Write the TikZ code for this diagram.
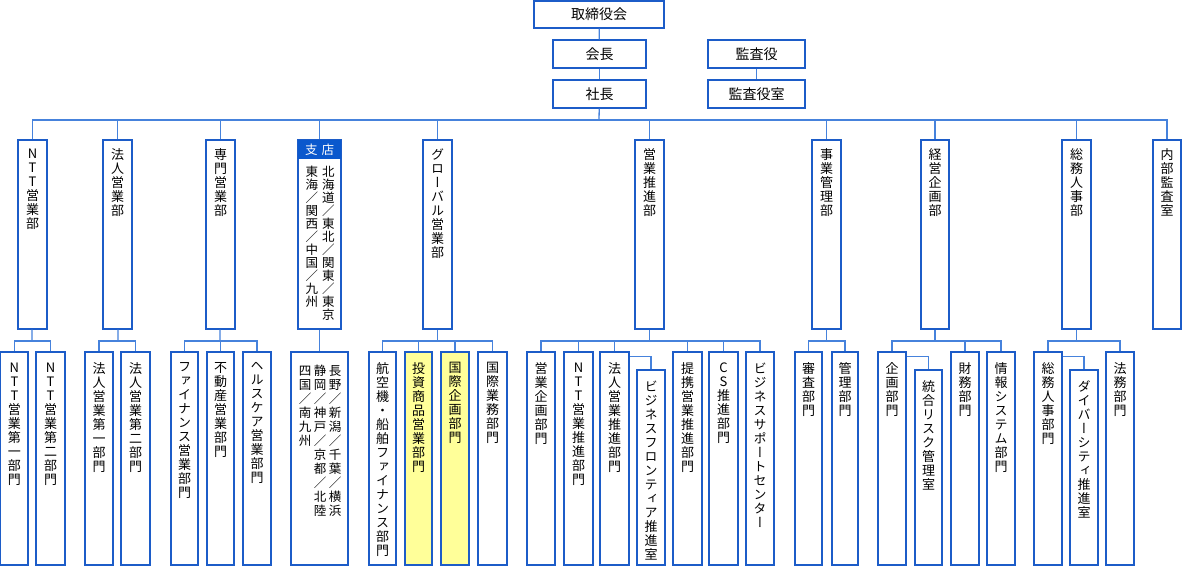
\documentclass[tikz,border=0pt]{standalone}
\usepackage{fontspec}
\setmainfont{Noto Sans CJK JP}
\newfontfamily\vfont[RawFeature=+vert]{Noto Sans CJK JP}
\usetikzlibrary{fit}
\definecolor{bd}{RGB}{28,92,200}
\definecolor{ln}{RGB}{70,130,220}
\definecolor{hd}{RGB}{10,88,205}
\definecolor{yl}{RGB}{255,255,153}
\makeatletter
\newcommand\vt[2][14pt]{\vtop{\baselineskip=#1\lineskiplimit=-20pt\@tfor\vt@c:=#2\do{\hbox to 14pt{\hss\vt@c\hss}}}}
\makeatother
\tikzset{
  box/.style={draw=bd,line width=1.3pt,inner sep=0pt,fill=white},
  ybox/.style={fill=yl},
  txt/.style={inner sep=0pt,font=\fontsize{13}{14}\selectfont},
  htxt/.style={inner sep=0pt,font=\fontsize{14}{14}\selectfont},
  conn/.style={draw=ln,line width=1.3pt},
}
% name, x1,y1,x2,y2, text ; optional style
\newcommand\ob[7][]{%
  \node[box,#1,fit={(#3,#4)(#5,#6)}] (#2) {};
  \node[txt,anchor=north] (#2-t) at ([yshift=-11pt]#2.north) {\vfont\vt{#7}};
}
\newcommand\tb[7][]{%
  \node[box,#1,fit={(#3,#4)(#5,#6)}] (#2) {};
  \node[txt,anchor=north] (#2-t) at ([yshift=-9pt]#2.north) {\vfont\vt{#7}};
}
\begin{document}
\begin{tikzpicture}[x=1pt,y=-1pt]
\useasboundingbox[fill=white] (0,0) rectangle (1182,566);
% top
\node[box,fit={(534,1)(664,28)}] (tori) {};
\node[htxt] (tori-t) at (tori) {取締役会};
\node[box,fit={(553,40)(646,68)}] (kaicho) {};
\node[htxt] (kaicho-t) at (kaicho) {会長};
\node[box,fit={(553,80)(646,108)}] (shacho) {};
\node[htxt] (shacho-t) at (shacho) {社長};
\node[box,fit={(708,40)(805,68)}] (kansa) {};
\node[htxt] (kansa-t) at (kansa) {監査役};
\node[box,fit={(708,80)(805,108)}] (kansashitsu) {};
\node[htxt] (kansashitsu-t) at (kansashitsu) {監査役室};
\draw[conn] (tori) -- (kaicho);
\draw[conn] (kaicho) -- (shacho);
\draw[conn] (kansa) -- (kansashitsu);
% top level
\tb{t1}{18}{140}{47}{329}{NTT営業部}
\tb{t2}{103}{140}{132}{329}{法人営業部}
\tb{t3}{206}{140}{235}{329}{専門営業部}
\node[box,fit={(298,140)(341,329)}] (t4) {};
\node[fill=hd,inner sep=0pt,fit={(298,140)(341,159)}] (t4h) {};
\draw[bd,line width=1.3pt] (t4.north west) rectangle (t4.south east);
\node[txt,text=white,font=\fontsize{12.5}{14}\selectfont] (t4h-t) at (t4h) {支\hspace{4pt}店};
\node[txt,anchor=north,font=\fontsize{12.5}{14}\selectfont] (t4-t) at (320,166)
  {\hbox{\vt[13pt]{東海／関西／中国／九州}\hspace{2.5pt}\vt[13pt]{北海道／東北／関東／東京}}};
\tb{t5}{423}{140}{452}{329}{グローバル営業部}
\tb{t6}{635}{140}{664}{329}{営業推進部}
\tb{t7}{812}{140}{841}{329}{事業管理部}
\tb{t8}{921}{140}{949}{329}{経営企画部}
\tb{t9}{1062}{140}{1091}{329}{総務人事部}
\tb{t10}{1153}{140}{1181}{329}{内部監査室}
\coordinate (bus) at (599,120);
\draw[conn] (shacho) -- (bus);
\draw[conn] (t1.north) |- (bus) -| (t10.north);
\foreach \n in {t2,t3,t4,t5,t6,t7,t8,t9} \draw[conn] (\n.north) -- (\n.north |- bus);
% bottom
\ob{b1}{0.8}{352}{28}{565}{NTT営業第一部門}
\ob{b2}{36}{352}{65}{565}{NTT営業第二部門}
\ob{b3}{85}{352}{113}{565}{法人営業第一部門}
\ob{b4}{121}{352}{150}{565}{法人営業第二部門}
\ob{b5}{171}{352}{198}{565}{ファイナンス営業部門}
\ob{b6}{207}{352}{234}{565}{不動産営業部門}
\ob{b7}{243}{352}{271}{565}{ヘルスケア営業部門}
\node[box,fit={(291,352)(348,565)}] (b8) {};
\node[txt,anchor=north,font=\fontsize{12.5}{14}\selectfont] (b8-t) at (320,365)
  {\hbox{\vt{四国／南九州}\hspace{1pt}\vt{静岡／神戸／京都／北陸}\hspace{1pt}\vt{長野／新潟／千葉／横浜}}};
\ob{b9}{369}{352}{396}{565}{航空機・船舶ファイナンス部門}
\ob[ybox]{b10}{405}{352}{432}{565}{投資商品営業部門}
\ob[ybox]{b11}{441}{352}{469}{565}{国際企画部門}
\ob{b12}{478}{352}{507}{565}{国際業務部門}
\ob{b13}{527}{352}{555}{565}{営業企画部門}
\ob{b14}{564}{352}{593}{565}{NTT営業推進部門}
\ob{b15}{600}{352}{629}{565}{法人営業推進部門}
\ob{b16}{637}{370}{665}{565}{ビジネスフロンティア推進室}
\ob{b17}{673}{352}{702}{565}{提携営業推進部門}
\ob{b18}{709}{352}{738}{565}{CS推進部門}
\ob{b19}{746}{352}{774}{565}{ビジネスサポートセンター}
\ob{b20}{795}{352}{822}{565}{審査部門}
\ob{b21}{832}{352}{858}{565}{管理部門}
\ob{b22}{878}{352}{906}{565}{企画部門}
\ob{b23}{915}{370}{942}{565}{統合リスク管理室}
\ob{b24}{951}{352}{979}{565}{財務部門}
\ob{b25}{987}{352}{1015}{565}{情報システム部門}
\ob{b26}{1034}{352}{1062}{565}{総務人事部門}
\ob{b27}{1070}{370}{1098}{565}{ダイバーシティ推進室}
\ob{b28}{1106}{352}{1134}{565}{法務部門}
% sub connectors
\coordinate (g1) at (32,341);
\draw[conn] (t1) -- (g1);
\draw[conn] (b1.north) |- (g1) -| (b2.north);
\coordinate (g2) at (118,341);
\draw[conn] (t2) -- (g2);
\draw[conn] (b3.north) |- (g2) -| (b4.north);
\coordinate (g3) at (220,341);
\draw[conn] (t3) -- (g3);
\draw[conn] (b5.north) |- (g3) -| (b7.north);
\draw[conn] (b6.north) -- (b6.north |- g3);
\draw[conn] (t4.south) -- (b8.north);
\coordinate (g5) at (437.5,341);
\draw[conn] (t5) -- (g5);
\draw[conn] (b9.north) |- (g5) -| (b12.north);
\foreach \n in {b10,b11} \draw[conn] (\n.north) -- (\n.north |- g5);
\coordinate (g6) at (649.5,341);
\draw[conn] (t6) -- (g6);
\draw[conn] (b13.north) |- (g6) -| (b19.north);
\foreach \n in {b14,b15,b17,b18} \draw[conn] (\n.north) -- (\n.north |- g6);
\draw[conn] ([yshift=-5pt]b15.north east) -| (b16.north);
\coordinate (g7) at (826.5,341);
\draw[conn] (t7) -- (g7);
\draw[conn] (b20.north) |- (g7) -| (b21.north);
\coordinate (g8) at (935,341);
\draw[conn] (t8) -- (g8);
\draw[conn] (b22.north) |- (g8) -| (b25.north);
\draw[conn] (b24.north) -- (b24.north |- g8);
\draw[conn] ([yshift=-5pt]b22.north east) -| (b23.north);
\coordinate (g9) at (1076.5,341);
\draw[conn] (t9) -- (g9);
\draw[conn] (b26.north) |- (g9) -| (b28.north);
\draw[conn] ([yshift=-5pt]b26.north east) -| (b27.north);
\end{tikzpicture}
\end{document}
